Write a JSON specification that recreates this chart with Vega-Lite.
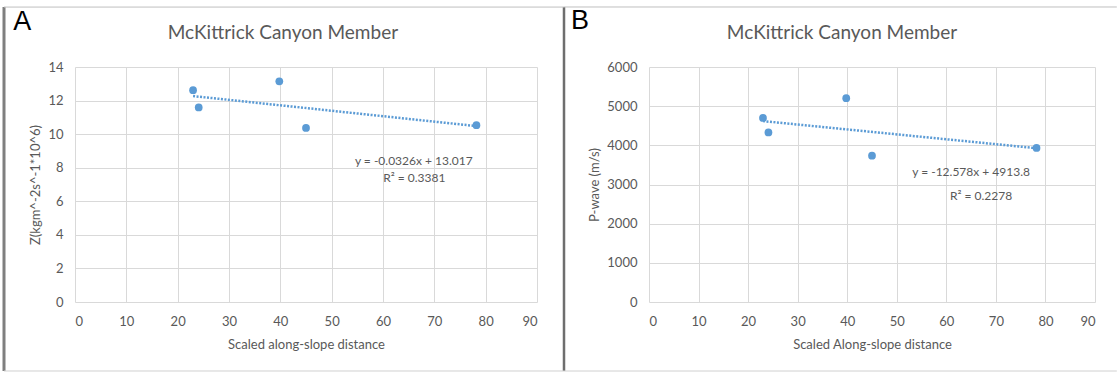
{
  "$schema": "https://vega.github.io/schema/vega-lite/v6.json",
  "background": "white",
  "padding": {"left": 2, "top": 5, "right": 0, "bottom": 2},
  "bounds": "flush",
  "spacing": 112,
  "config": {
    "view": {"stroke": null},
    "font": "Lato",
    "axis": {
      "gridColor": "#d9d9d9",
      "gridWidth": 1,
      "domain": false,
      "ticks": false,
      "tickSize": 0,
      "tickCount": 20,
      "labelOverlap": false,
      "labelBound": false,
      "labelColor": "#595959",
      "labelFontSize": 13,
      "labelFont": "Lato",
      "titleColor": "#595959",
      "titleFontSize": 13,
      "titleFont": "Lato",
      "titleFontWeight": "normal"
    },
    "axisX": {"labelPadding": 13, "titlePadding": 10},
    "axisY": {"labelPadding": 12, "titlePadding": 5}
  },
  "datasets": {
    "samples": [
      {"distance": 23.0, "impedance": 12.62, "pwave": 4700},
      {"distance": 24.1, "impedance": 11.59, "pwave": 4330},
      {"distance": 39.8, "impedance": 13.15, "pwave": 5205},
      {"distance": 45.0, "impedance": 10.37, "pwave": 3735},
      {"distance": 78.2, "impedance": 10.53, "pwave": 3932}
    ],
    "one": [{}]
  },
  "hconcat": [
    {
      "width": 462,
      "height": 235,
      "layer": [
        {
          "data": {"name": "samples"},
          "transform": [{"regression": "impedance", "on": "distance"}],
          "mark": {"type": "line", "color": "#5b9bd5", "strokeWidth": 2.5, "strokeDash": [2, 1.5]},
          "encoding": {
            "x": {"field": "distance", "type": "quantitative", "scale": {"domain": [0, 90], "nice": false},
                  "axis": {"values": [0, 10, 20, 30, 40, 50, 60, 70, 80, 90], "tickCount": 20, "format": "d", "title": "Scaled along-slope distance"}},
            "y": {"field": "impedance", "type": "quantitative", "scale": {"domain": [0, 14], "nice": false},
                  "axis": {"values": [0, 2, 4, 6, 8, 10, 12, 14], "tickCount": 20, "format": "d", "title": "Z(kgm^-2s^-1*10^6)"}}
          }
        },
        {
          "data": {"name": "samples"},
          "mark": {"type": "circle", "color": "#5b9bd5", "opacity": 1, "size": 60},
          "encoding": {
            "x": {"field": "distance", "type": "quantitative"},
            "y": {"field": "impedance", "type": "quantitative"}
          }
        },
        {
          "data": {"name": "one"},
          "mark": {"type": "text", "text": "y = -0.0326x + 13.017", "fontSize": 12, "color": "#595959", "align": "center", "baseline": "middle"},
          "encoding": {"x": {"datum": 66}, "y": {"datum": 8.42}}
        },
        {
          "data": {"name": "one"},
          "mark": {"type": "text", "text": "R² = 0.3381", "fontSize": 12, "color": "#595959", "align": "center", "baseline": "middle"},
          "encoding": {"x": {"datum": 66.1}, "y": {"datum": 7.37}}
        },
        {
          "data": {"name": "one"},
          "mark": {"type": "text", "text": "McKittrick Canyon Member", "fontSize": 19, "color": "#595959", "align": "center", "baseline": "middle"},
          "encoding": {"x": {"datum": 40.5}, "y": {"datum": 16.03}}
        },
        {
          "data": {"name": "one"},
          "mark": {"type": "text", "text": "A", "font": "Liberation Sans", "fontSize": 27, "color": "black", "align": "center", "baseline": "middle"},
          "encoding": {"x": {"datum": -10.3}, "y": {"datum": 16.68}}
        },
        {
          "data": {"name": "one"},
          "mark": {"type": "rule", "color": "#7f7f7f", "strokeWidth": 3},
          "encoding": {"x": {"datum": -13.83}, "y": {"datum": -4.11}, "y2": {"datum": 17.57}}
        },
        {
          "data": {"name": "one"},
          "mark": {"type": "rule", "color": "#6e6e6e", "strokeWidth": 2.5},
          "encoding": {"x": {"datum": 95.26}, "y": {"datum": -4.11}, "y2": {"datum": 17.57}}
        },
        {
          "data": {"name": "one"},
          "mark": {"type": "rule", "color": "#bfbfbf", "strokeWidth": 1},
          "encoding": {"y": {"datum": 17.57}, "x": {"datum": -13.83}, "x2": {"datum": 95.26}}
        },
        {
          "data": {"name": "one"},
          "mark": {"type": "rule", "color": "#d0d0d0", "strokeWidth": 1},
          "encoding": {"y": {"datum": -4.11}, "x": {"datum": -13.83}, "x2": {"datum": 95.26}}
        }
      ]
    },
    {
      "width": 446,
      "height": 235,
      "layer": [
        {
          "data": {"name": "samples"},
          "transform": [{"regression": "pwave", "on": "distance"}],
          "mark": {"type": "line", "color": "#5b9bd5", "strokeWidth": 2.5, "strokeDash": [2, 1.5]},
          "encoding": {
            "x": {"field": "distance", "type": "quantitative", "scale": {"domain": [0, 90], "nice": false},
                  "axis": {"values": [0, 10, 20, 30, 40, 50, 60, 70, 80, 90], "tickCount": 20, "format": "d", "title": "Scaled Along-slope distance"}},
            "y": {"field": "pwave", "type": "quantitative", "scale": {"domain": [0, 6000], "nice": false},
                  "axis": {"values": [0, 1000, 2000, 3000, 4000, 5000, 6000], "tickCount": 20, "format": "d", "title": "P-wave (m/s)"}}
          }
        },
        {
          "data": {"name": "samples"},
          "mark": {"type": "circle", "color": "#5b9bd5", "opacity": 1, "size": 60},
          "encoding": {
            "x": {"field": "distance", "type": "quantitative"},
            "y": {"field": "pwave", "type": "quantitative"}
          }
        },
        {
          "data": {"name": "one"},
          "mark": {"type": "text", "text": "y = -12.578x + 4913.8", "fontSize": 12, "color": "#595959", "align": "center", "baseline": "middle"},
          "encoding": {"x": {"datum": 65.0}, "y": {"datum": 3311}}
        },
        {
          "data": {"name": "one"},
          "mark": {"type": "text", "text": "R² = 0.2278", "fontSize": 12, "color": "#595959", "align": "center", "baseline": "middle"},
          "encoding": {"x": {"datum": 67.0}, "y": {"datum": 2706}}
        },
        {
          "data": {"name": "one"},
          "mark": {"type": "text", "text": "McKittrick Canyon Member", "fontSize": 19, "color": "#595959", "align": "center", "baseline": "middle"},
          "encoding": {"x": {"datum": 38.95}, "y": {"datum": 6868}}
        },
        {
          "data": {"name": "one"},
          "mark": {"type": "text", "text": "B", "font": "Liberation Sans", "fontSize": 27, "color": "black", "align": "center", "baseline": "middle"},
          "encoding": {"x": {"datum": -13.92}, "y": {"datum": 7162}}
        },
        {
          "data": {"name": "one"},
          "mark": {"type": "rule", "color": "#bfbfbf", "strokeWidth": 1},
          "encoding": {"y": {"datum": 7532}, "x": {"datum": -17.15}, "x2": {"datum": 94.4}}
        },
        {
          "data": {"name": "one"},
          "mark": {"type": "rule", "color": "#d0d0d0", "strokeWidth": 1},
          "encoding": {"y": {"datum": -1762}, "x": {"datum": -17.15}, "x2": {"datum": 94.4}}
        }
      ]
    }
  ]
}
